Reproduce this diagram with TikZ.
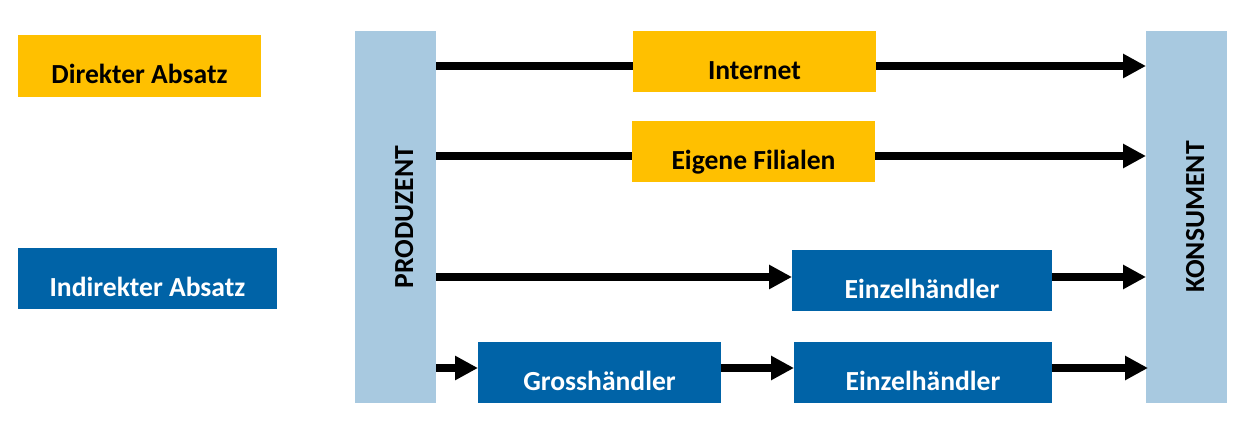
\documentclass[tikz,border=0pt]{standalone}
\usepackage{fontspec}
\setmainfont{Carlito}
\usetikzlibrary{arrows.meta}
\definecolor{gelb}{HTML}{FFC000}
\definecolor{dunkelblau}{HTML}{0063A7}
\definecolor{hellblau}{HTML}{A8C9E0}
\tikzset{
  lbl/.style={font=\fontsize{27.6}{30}\selectfont\bfseries, inner sep=0pt, outer sep=0pt},
  ybox/.style={lbl, fill=gelb, text=black, minimum width=243pt, text height=49pt, text depth=12pt},
  bbox/.style={lbl, fill=dunkelblau, text=white, minimum width=243pt, text height=49pt, text depth=12pt},
  bar/.style={lbl, fill=hellblau, text=black, rotate=90, minimum width=372pt, text height=58pt, text depth=23pt},
  line/.style={line width=8pt, black},
  arr/.style={line width=8pt, black, -{Triangle[length=23pt,width=23pt]}}
}
\begin{document}
\begin{tikzpicture}[x=1pt,y=-1pt]
\path[use as bounding box, fill=white] (0,0) rectangle (1250,427);
% legend
\node[ybox, minimum width=243pt, text depth=13pt] (direkt) at (139.5,66) {Direkter Absatz};
\node[bbox, minimum width=259pt] (indirekt) at (147.5,278.5) {Indirekter Absatz};
% bars
\node[bar] (prod) at (395.5,217) {PRODUZENT};
\node[bar] (kons) at (1186.5,217) {KONSUMENT};
% channel boxes
\node[ybox] (internet) at (754.5,61.5) {Internet};
\node[ybox] (filialen) at (753.5,151.5) {Eigene Filialen};
\node[bbox, minimum width=260pt] (einzelA) at (922,280.5) {Einzelhändler};
\node[bbox] (gross) at (599.5,372.5) {Grosshändler};
\node[bbox, minimum width=258pt] (einzelB) at (923,372.5) {Einzelhändler};
% anchor points of the connector rows
\path ([yshift=-4.5pt]internet.west) coordinate (iw)
      ([yshift=-4.5pt]internet.east) coordinate (ie)
      ([yshift=-4.5pt]filialen.west) coordinate (fw)
      ([yshift=-4.5pt]filialen.east) coordinate (fe)
      ([yshift=3.5pt]einzelA.west) coordinate (aw)
      ([yshift=3.5pt]einzelA.east) coordinate (ae)
      ([yshift=4.5pt]gross.west) coordinate (gw)
      ([yshift=4.5pt]gross.east) coordinate (ge)
      ([yshift=4.5pt]einzelB.west) coordinate (bw)
      ([yshift=4.5pt]einzelB.east) coordinate (be);
% connectors
\draw[line] (prod.south |- iw) -- (iw);
\draw[arr] (ie) -- (kons.north |- ie);
\draw[line] (prod.south |- fw) -- (fw);
\draw[arr] (fe) -- (kons.north |- fe);
\draw[arr] (prod.south |- aw) -- (aw);
\draw[arr] (ae) -- (kons.north |- ae);
\draw[arr] (prod.south |- gw) -- (gw);
\draw[arr] (ge) -- (bw);
\draw[arr] (be) -- ([xshift=2pt]kons.north |- be);
\end{tikzpicture}
\end{document}
